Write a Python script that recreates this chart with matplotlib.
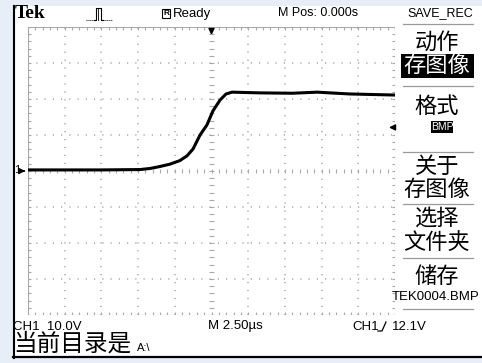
import matplotlib
matplotlib.use('Agg')
import matplotlib.pyplot as plt
from matplotlib.patches import Rectangle

# ---- data ----
time_us = [-12.5, -10.0, -7.5, -4.87, -4.19, -3.51, -2.83, -2.15, -1.67, -1.26,
           -0.78, -0.31, 0.10, 0.58, 0.99, 1.40, 3.3, 5.5, 7.2, 9.4, 12.5]
volts = [0.3, 0.3, 0.3, 0.4, 0.7, 1.25, 1.9, 2.9, 4.2, 6.1,
         10.0, 12.8, 16.7, 19.7, 21.4, 21.9, 21.7, 21.6, 21.9, 21.4, 21.1]
volts_per_div = 10.0
time_per_div = 2.5
trigger_level = 12.1

top_labels = ["Ready", "M Pos: 0.000s", "SAVE_REC"]
bottom_labels = ["CH1  10.0V", "M 2.50\u00b5s", "CH1", "12.1V"]
menu_items = ["动作", "存图像", "格式", "BMP", "关于", "存图像", "选择", "文件夹", "储存", "TEK0004.BMP"]
status_text = "当前目录是"
status_path = "A:\\"

W, H = 482, 363
fig = plt.figure(figsize=(W / 100, H / 100), dpi=100)
fig.patch.set_facecolor('#e8eef8')

ov = fig.add_axes([0, 0, 1, 1])
ov.set_xlim(0, W)
ov.set_ylim(H, 0)
ov.axis('off')
ov.add_patch(Rectangle((13, 6), W - 13, 351, facecolor='white', edgecolor='none', zorder=0))
ov.plot([13.5, 13.5], [6, 357.5], color='black', lw=1.5)
ov.plot([13, W], [357, 357], color='black', lw=1.6)

narrow = ['Liberation Sans', 'DejaVu Sans']
cjk = ['Noto Sans CJK SC', 'DejaVu Sans']

# ---- graticule ----
gx0, gx1, gy0, gy1 = 28, 395, 27, 315
ax = fig.add_axes([gx0 / W, 1 - gy1 / H, (gx1 - gx0) / W, (gy1 - gy0) / H])
ax.patch.set_alpha(0)
ax.set_xlim(-5 * time_per_div, 5 * time_per_div)
ax.set_ylim(-4 * volts_per_div, 4 * volts_per_div)
ax.axis('off')
gc = '#a8a8a8'
ax.add_patch(Rectangle((-5 * time_per_div, -4 * volts_per_div), 10 * time_per_div, 8 * volts_per_div,
                       fill=False, edgecolor=gc, lw=0.8))
for i in range(-4, 5):
    if i != 0:
        ax.axvline(i * time_per_div, color=gc, lw=1.1, dashes=(0.8, 4.4))
for j in range(-3, 4):
    if j != 0:
        ax.axhline(j * volts_per_div, color=gc, lw=1.1, dashes=(0.8, 4.6))

xt = [k * time_per_div / 5 for k in range(-25, 26)]
yt = [k * volts_per_div / 5 for k in range(-20, 21)]
tl_v = 0.9   # tick length in volts (~3px)
tl_t = 0.2   # tick length in us (~3px)
ax.vlines(xt, 4 * volts_per_div - tl_v, 4 * volts_per_div, color=gc, lw=0.8)
ax.vlines(xt, -4 * volts_per_div, -4 * volts_per_div + tl_v, color=gc, lw=0.8)
ax.vlines(xt, -tl_v * 0.7, tl_v * 0.7, color=gc, lw=0.8)
ax.hlines(yt, -5 * time_per_div, -5 * time_per_div + tl_t, color=gc, lw=0.8)
ax.hlines(yt, 5 * time_per_div - tl_t, 5 * time_per_div, color=gc, lw=0.8)
ax.hlines(yt, -tl_t * 0.7, tl_t * 0.7, color=gc, lw=0.8)

# waveform
ax.plot(time_us, volts, color='black', lw=2.2, solid_joinstyle='round', zorder=5)

# trigger position arrow (top centre)
ax.annotate('', xy=(0, 4 * volts_per_div - 3.0), xycoords='data',
            xytext=(0, 8), textcoords='offset points',
            arrowprops=dict(arrowstyle='-|>', color='black', lw=1.0, mutation_scale=9),
            annotation_clip=False)
# trigger level arrow (right)
ax.annotate('', xy=(5 * time_per_div - 0.6, trigger_level), xycoords='data',
            xytext=(8, 0), textcoords='offset points',
            arrowprops=dict(arrowstyle='-|>', color='black', lw=1.0, mutation_scale=9),
            annotation_clip=False)
# channel 1 ground marker (left)
ax.annotate('', xy=(-5 * time_per_div, 0), xycoords='data',
            xytext=(-5, 0), textcoords='offset points',
            arrowprops=dict(arrowstyle='-|>', color='black', lw=1.0, mutation_scale=9),
            annotation_clip=False)
ov.text(17, 170, '1', fontsize=8, family=narrow, ha='center', va='center')

# ---- top status line ----
ov.text(15, 14, 'Tek', fontsize=14, fontweight='bold', family=['Liberation Serif', 'DejaVu Serif'],
        ha='left', va='center')
ov.plot([86, 94], [20, 20], color='black', lw=0.7, dashes=(1, 1))
ov.plot([103, 112], [20, 20], color='black', lw=0.7, dashes=(1, 1))
ov.plot([94, 95.5, 95.5, 101, 101, 103], [20, 20, 8, 8, 20, 20], color='black', lw=0.8)
ov.plot([97.5, 97.5], [9, 20], color='black', lw=0.6)
ov.add_patch(Rectangle((162, 9), 8, 9, fill=False, edgecolor='black', lw=0.8))
ov.text(166, 13.8, 'R', fontsize=6, family=narrow, ha='center', va='center', fontweight='bold')
ov.text(173, 13.5, top_labels[0], fontsize=9.5, family=narrow, ha='left', va='center')
ov.text(278, 13.5, top_labels[1], fontsize=9, family=narrow, ha='left', va='center')
ov.text(440, 13.5, top_labels[2], fontsize=9, family=narrow, ha='center', va='center')

# ---- right menu ----
mx = 437
sep_c = '#9a9a9a'
for y in [24, 86, 152, 204, 258, 309]:
    ov.plot([403, 473], [y, y], color=sep_c, lw=0.9)
ov.text(mx, 42, menu_items[0], fontsize=16, family=cjk, ha='center', va='center')
ov.add_patch(Rectangle((401, 54), 73, 24, facecolor='black', edgecolor='none'))
ov.text(mx, 66, menu_items[1], fontsize=16, family=cjk, ha='center', va='center', color='white')
ov.text(mx, 106, menu_items[2], fontsize=16, family=cjk, ha='center', va='center')
ov.add_patch(Rectangle((431, 121), 22, 12, facecolor='black', edgecolor='none'))
ov.text(442, 127.5, menu_items[3], fontsize=7.5, family=narrow, ha='center', va='center', color='white')
ov.text(mx, 166, menu_items[4], fontsize=16, family=cjk, ha='center', va='center')
ov.text(mx, 190, menu_items[5], fontsize=16, family=cjk, ha='center', va='center')
ov.text(mx, 218, menu_items[6], fontsize=16, family=cjk, ha='center', va='center')
ov.text(mx, 243, menu_items[7], fontsize=16, family=cjk, ha='center', va='center')
ov.text(mx, 276, menu_items[8], fontsize=16, family=cjk, ha='center', va='center')
ov.text(436, 297.5, menu_items[9], fontsize=9.5, family=narrow, ha='center', va='center')

# ---- bottom status ----
ov.text(13, 326.5, bottom_labels[0], fontsize=9.5, family=narrow, ha='left', va='center')
ov.text(208, 326.5, bottom_labels[1], fontsize=9.5, family=narrow, ha='left', va='center')
ov.text(352, 326.5, bottom_labels[2], fontsize=9.5, family=narrow, ha='left', va='center')
ov.plot([378, 382, 386], [331, 331, 322], color='black', lw=0.9)
ov.text(392, 326.5, bottom_labels[3], fontsize=9.5, family=narrow, ha='left', va='center')
ov.text(13, 344, status_text, fontsize=17, family=cjk, ha='left', va='center')
ov.text(137, 348, status_path, fontsize=8, family=narrow, ha='left', va='center')

fig.savefig('out.png', dpi=100, facecolor=fig.get_facecolor())
